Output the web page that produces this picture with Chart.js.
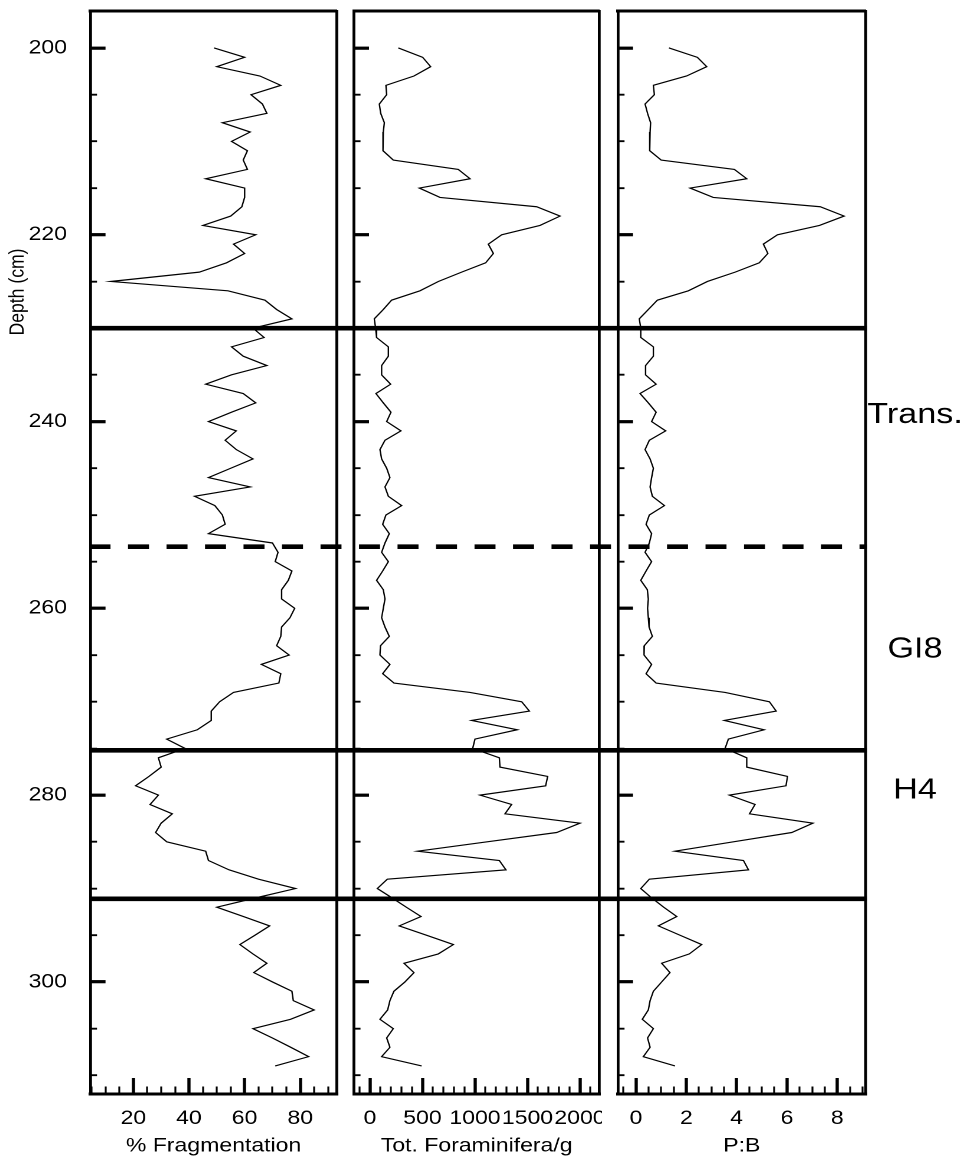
<!DOCTYPE html>
<html>
<head>
<meta charset="utf-8">
<title>Fragmentation, foraminifera and P:B against depth</title>
<script src="https://cdn.jsdelivr.net/npm/chart.js@4.4.1/dist/chart.umd.min.js"></script>
<style>
  html, body { margin: 0; padding: 0; background: #fff; }
  #fig { position: relative; width: 971px; height: 1160px; overflow: hidden; background: #fff; }
  #fig canvas { position: absolute; top: 0; transform-origin: 0 0; }
</style>
</head>
<body>
<div id="fig">
  <canvas id="fragChart"></canvas>
  <canvas id="foramChart"></canvas>
  <canvas id="pbChart"></canvas>
</div>
<script>
// ---- data (cm depth, one sample per cm) ----
const depths = [
  200, 201, 202, 203, 204, 205, 206, 207, 208, 209,
  210, 211, 212, 213, 214, 215, 216, 217, 218, 219,
  220, 221, 222, 223, 224, 225, 226, 227, 228, 229,
  230, 231, 232, 233, 234, 235, 236, 237, 238, 239,
  240, 241, 242, 243, 244, 245, 246, 247, 248, 249,
  250, 251, 252, 253, 254, 255, 256, 257, 258, 259,
  260, 261, 262, 263, 264, 265, 266, 267, 268, 269,
  270, 271, 272, 273, 274, 275, 276, 277, 278, 279,
  280, 281, 282, 283, 284, 285, 286, 287, 288, 289,
  290, 291, 292, 293, 294, 295, 296, 297, 298, 299,
  300, 301, 302, 303, 304, 305, 306, 307, 308, 309
];

const fragmentation = [
  49, 60, 50, 65.5, 73, 62.3, 66.4, 68, 52, 62,
  55.3, 61, 59.5, 61, 46, 60, 60, 59, 55, 45,
  64, 56, 60, 53.5, 43.7, 11.9, 54, 67.3, 71.5, 77,
  63, 67, 55.3, 59.5, 68, 55.3, 46, 59.5, 64, 55.3,
  47, 57, 53, 57, 63, 55, 47, 62, 42, 49.3,
  52, 53, 47, 70, 72, 71, 77, 75.7, 73.3, 73.3,
  78, 76.3, 73.3, 73, 71.5, 76, 66, 73, 72.3, 56,
  51, 48, 48, 43, 32, 38.6, 29, 30, 25.6, 20.8,
  29, 26, 34, 30, 28, 32, 46, 47, 54.4, 65,
  78.3, 64, 50, 59.6, 69, 63.7, 58.3, 63, 68, 63.3,
  70, 77, 77.5, 85, 76.5, 63, 70, 76.6, 83, 71
];

const foraminifera = [
  270, 502, 578, 419, 152, 159, 89, 102, 137, 127,
  127, 121, 222, 841, 953, 470, 667, 1587, 1810, 1619,
  1254, 1127, 1175, 1102, 873, 651, 476, 206, 127, 41,
  54, 63, 175, 175, 111, 111, 197, 57, 127, 200,
  159, 295, 143, 95, 111, 159, 190, 143, 175, 302,
  152, 121, 184, 143, 111, 175, 121, 63, 127, 143,
  127, 111, 143, 184, 100, 95, 190, 121, 229, 953,
  1445, 1518, 968, 1403, 1000, 978, 1232, 1238, 1692, 1673,
  1048, 1349, 1286, 2000, 1778, 1116, 454, 1232, 1295, 165,
  70, 210, 346, 486, 279, 537, 794, 651, 324, 419,
  333, 228, 190, 168, 95, 222, 159, 190, 111, 492
];

const pbRatio = [
  1.31, 2.44, 2.81, 2.01, 0.69, 0.73, 0.36, 0.46, 0.58, 0.56,
  0.56, 0.53, 1.0, 3.91, 4.4, 2.15, 3.07, 7.32, 8.27, 7.29,
  5.62, 5.06, 5.24, 4.9, 3.94, 2.84, 2.08, 0.85, 0.49, 0.13,
  0.19, 0.19, 0.69, 0.69, 0.38, 0.38, 0.8, 0.16, 0.49, 0.8,
  0.62, 1.18, 0.53, 0.36, 0.56, 0.69, 0.62, 0.56, 0.65, 1.13,
  0.53, 0.4, 0.62, 0.53, 0.36, 0.62, 0.4, 0.19, 0.45, 0.49,
  0.46, 0.49, 0.52, 0.65, 0.33, 0.32, 0.62, 0.4, 0.8, 3.54,
  5.3, 5.57, 3.51, 5.09, 3.67, 3.54, 4.4, 4.4, 6.02, 5.96,
  3.71, 4.73, 4.51, 7.03, 6.19, 3.87, 1.55, 4.27, 4.47, 0.53,
  0.19, 0.62, 1.1, 1.62, 0.89, 1.75, 2.61, 2.12, 1.02, 1.35,
  1.02, 0.69, 0.56, 0.49, 0.25, 0.69, 0.46, 0.56, 0.29, 1.55
];

// tick labels
const depthTickLabels = [200, 220, 240, 260, 280, 300];
const fragTickLabels = [20, 40, 60, 80];
const foramTickLabels = [0, 500, 1000, 1500, 2000];
const pbTickLabels = [0, 2, 4, 6, 8];

// zone boundaries and names
const zoneBoundaries = [230, 253.4, 275.2, 291.1];
const boundaryDashed = [false, true, false, false];
const zoneNames = ['Trans.', 'GI8', 'H4'];
const zoneLabelDepths = [239.3, 264.4, 279.5];

// ---- layout ----
const SX = 1.18;              // the original figure is stretched sideways
const FONT = '"Liberation Sans", Arial, Helvetica, sans-serif';
const H = 1160, TOP = 11, BOTTOM = 1094;
const DEPTH_MIN = 196.04, DEPTH_MAX = 312;
const DASH_START = 89.5;      // page x where the dash pattern begins

Chart.defaults.font.family = FONT;
Chart.defaults.color = '#000';

const panels = [
  { id: 'fragChart', left: 0, right: 346, areaLeft: 90.5, areaRight: 336.7,
    min: 4.6, max: 93.1, step: 5, labels: fragTickLabels, values: fragmentation,
    title: '% Fragmentation', depthLabels: true, lineFrom: 'area', lineTo: 'edge' },
  { id: 'foramChart', left: 346, right: 602, areaLeft: 354, areaRight: 599.3,
    min: -152, max: 2184, step: 100, labels: foramTickLabels, values: foraminifera,
    title: 'Tot. Foraminifera/g', lineFrom: 'edge', lineTo: 'edge' },
  { id: 'pbChart', left: 602, right: 971, areaLeft: 618, areaRight: 865.5,
    min: -0.715, max: 9.12, step: 0.5, labels: pbTickLabels, values: pbRatio,
    title: 'P:B', zones: true, zoneCenter: 915, lineFrom: 'edge', lineTo: 'area' }
];

function stepTicks(lo, hi, step) {
  const out = [];
  for (let v = Math.ceil(lo / step - 1e-9) * step; v <= hi + 1e-9; v += step) {
    out.push({ value: Math.round(v * 1000) / 1000 });
  }
  return out;
}
const hasValue = (list, v) => list.some(t => Math.abs(t - v) < 1e-6);

function zeroPadding(s) {
  s.paddingLeft = 0; s.paddingRight = 0; s.paddingTop = 0; s.paddingBottom = 0;
}

// thick horizontal zone boundaries running across all panels
const boundaryLines = {
  id: 'boundaryLines',
  afterDraw(chart, args, opts) {
    const { ctx, chartArea } = chart;
    const k = opts.k;
    const x0 = opts.from === 'area' ? chartArea.left : 0;
    const x1 = opts.to === 'area' ? chartArea.right + 1.5 / k : chart.width;
    zoneBoundaries.forEach((d, i) => {
      const y = chart.scales.y.getPixelForValue(d);
      ctx.save();
      ctx.strokeStyle = '#000';
      ctx.lineWidth = 4.6;
      if (boundaryDashed[i]) {
        ctx.setLineDash([21 / k, 17.5 / k]);
        ctx.lineDashOffset = (opts.pageLeft + x0 * k - DASH_START) / k;
      }
      ctx.beginPath();
      ctx.moveTo(x0, y);
      ctx.lineTo(x1, y);
      ctx.stroke();
      ctx.restore();
    });
  }
};

// rotated depth title, placed high on the left like the original
const depthTitle = {
  id: 'depthTitle',
  afterDraw(chart, args, opts) {
    const { ctx } = chart;
    ctx.save();
    ctx.translate(opts.x, opts.y);
    ctx.rotate(-Math.PI / 2);
    ctx.font = '17.6px ' + FONT;
    ctx.fillStyle = '#000';
    ctx.textAlign = 'center';
    ctx.textBaseline = 'middle';
    ctx.fillText('Depth (cm)', 0, 0);
    ctx.restore();
  }
};

function buildPanel(p) {
  const canvas = document.getElementById(p.id);
  const w = Math.round((p.right - p.left) / SX);
  const k = (p.right - p.left) / w;
  const px = v => v / k;
  canvas.width = w;
  canvas.height = H;
  canvas.style.left = p.left + 'px';
  canvas.style.transform = 'scaleX(' + k + ')';

  let zonePad = 0;
  if (p.zones) {
    const m = document.createElement('canvas').getContext('2d');
    m.font = '29px ' + FONT;
    const widest = Math.max(...zoneNames.map(n => m.measureText(n).width));
    zonePad = px(p.zoneCenter - p.areaRight) - widest / 2;
  }

  return new Chart(canvas, {
    type: 'scatter',
    data: {
      datasets: [{
        data: depths.map((d, i) => ({ x: p.values[i], y: d })),
        showLine: true,
        borderColor: '#000',
        borderWidth: 1.2,
        pointRadius: 0,
        pointHoverRadius: 0,
        tension: 0
      }]
    },
    options: {
      responsive: false,
      animation: false,
      devicePixelRatio: 2,
      events: [],
      layout: { padding: { top: TOP, left: 0, right: 0, bottom: 0 } },
      plugins: {
        legend: { display: false },
        tooltip: { enabled: false },
        boundaryLines: { k: k, pageLeft: p.left, from: p.lineFrom, to: p.lineTo },
        depthTitle: { x: px(18), y: 292 }
      },
      scales: {
        x: {
          type: 'linear', position: 'bottom', bounds: 'data', min: p.min, max: p.max,
          afterBuildTicks: s => { s.ticks = stepTicks(p.min, p.max, p.step); },
          afterFit: s => { s.height = H - BOTTOM; zeroPadding(s); },
          border: { display: true, color: '#000', width: 3 },
          grid: {
            display: true, drawOnChartArea: false, drawTicks: true, tickLength: -16,
            lineWidth: 3, tickColor: '#000',
            tickWidth: c => (c.tick && hasValue(p.labels, c.tick.value)) ? px(3.2) : px(1.9),
            tickBorderDash: c => (c.tick && hasValue(p.labels, c.tick.value)) ? [] : [9, 100]
          },
          ticks: {
            autoSkip: false, maxRotation: 0, minRotation: 0, padding: 29, color: '#000',
            font: { family: FONT, size: 19.5 },
            callback: v => hasValue(p.labels, v) ? String(v) : ''
          },
          title: {
            display: true, text: p.title, color: '#000',
            font: { family: FONT, size: 19.5 }, padding: { top: 0, bottom: 2 }
          }
        },
        xTop: {
          type: 'linear', position: 'top', display: true, min: p.min, max: p.max,
          afterFit: s => { s.height = 0; zeroPadding(s); },
          border: { display: true, color: '#000', width: 3 },
          grid: { display: false, drawTicks: false },
          ticks: { display: false }
        },
        y: {
          type: 'linear', position: 'left', reverse: true, bounds: 'data',
          min: DEPTH_MIN, max: DEPTH_MAX,
          afterBuildTicks: s => { s.ticks = stepTicks(DEPTH_MIN, DEPTH_MAX, 5); },
          afterFit: s => { s.width = px(p.areaLeft - p.left); zeroPadding(s); },
          border: { display: true, color: '#000', width: px(2.8) },
          grid: {
            display: true, drawOnChartArea: false, drawTicks: true, tickLength: -px(15),
            lineWidth: px(2.8), tickColor: '#000',
            tickWidth: c => (c.tick && hasValue(depthTickLabels, c.tick.value)) ? 3.2 : 1.9,
            tickBorderDash: c => (c.tick && hasValue(depthTickLabels, c.tick.value)) ? [] : [0, px(8.5), 100]
          },
          ticks: {
            display: !!p.depthLabels, autoSkip: false, padding: px(38.5), color: '#000',
            font: { family: FONT, size: 19.5 },
            callback: v => hasValue(depthTickLabels, v) ? String(v) : ''
          }
        },
        yRight: {
          type: 'linear', position: 'right', reverse: true, bounds: 'data', display: true,
          min: DEPTH_MIN, max: DEPTH_MAX,
          afterBuildTicks: s => { s.ticks = zoneLabelDepths.map(v => ({ value: v })); },
          afterFit: s => { s.width = px(p.right - p.areaRight); zeroPadding(s); },
          border: { display: true, color: '#000', width: px(2.8) },
          grid: { display: false, drawTicks: false },
          ticks: {
            display: !!p.zones, autoSkip: false, crossAlign: 'center', padding: zonePad,
            color: '#000', font: { family: FONT, size: 29 },
            callback: (v, i) => zoneNames[i]
          }
        }
      }
    },
    plugins: p.depthLabels ? [boundaryLines, depthTitle] : [boundaryLines]
  });
}

panels.forEach(buildPanel);
</script>
</body>
</html>
